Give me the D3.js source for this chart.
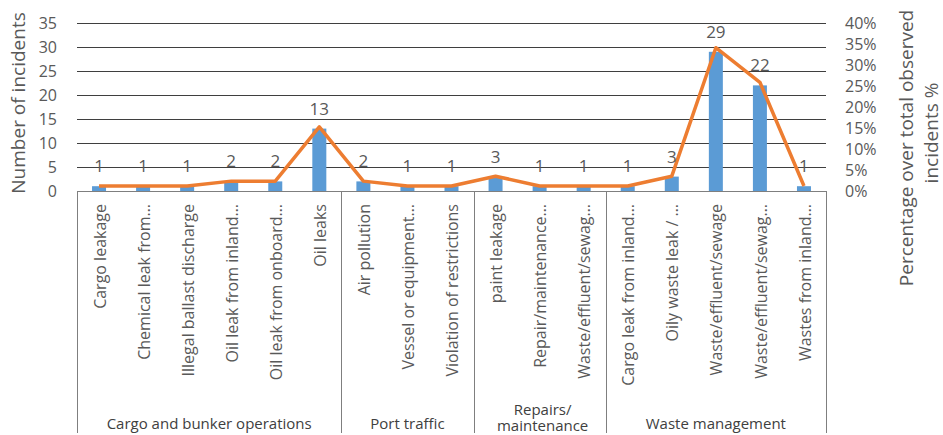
<!DOCTYPE html>
<html>
<head>
<meta charset="utf-8">
<script src="https://cdn.jsdelivr.net/npm/d3@7"></script>
<style>
  html, body { margin: 0; padding: 0; background: #fff; }
  svg { display: block; font-family: "Open Sans", sans-serif; }
</style>
</head>
<body>
<svg id="chart" width="943" height="435"></svg>
<script>
// Incident types, grouped by activity
const categories = [
  "Cargo leakage", "Chemical leak from…", "Illegal ballast discharge",
  "Oil leak from inland…", "Oil leak from onboard…", "Oil leaks",
  "Air pollution", "Vessel or equipment…", "Violation of restrictions",
  "paint leakage", "Repair/maintenance…", "Waste/effluent/sewag…",
  "Cargo leak from inland…", "Oily waste leak / …", "Waste/effluent/sewage",
  "Waste/effluent/sewag…", "Wastes from inland…"
];
const counts = [1, 1, 1, 2, 2, 13, 2, 1, 1, 3, 1, 1, 1, 3, 29, 22, 1];
const percents = [1.18, 1.18, 1.18, 2.35, 2.35, 15.29, 2.35, 1.18, 1.18, 3.53, 1.18, 1.18, 1.18, 3.53, 34.12, 25.88, 1.18];
const groups = [
  { name: ["Cargo and bunker operations"], size: 6 },
  { name: ["Port traffic"], size: 3 },
  { name: ["Repairs/", "maintenance"], size: 3 },
  { name: ["Waste management"], size: 5 }
];
const countTicks = [0, 5, 10, 15, 20, 25, 30, 35];
const pctTicks = [0, 5, 10, 15, 20, 25, 30, 35, 40];

const svg = d3.select("#chart");
const plotLeft = 77, plotRight = 826, plotTop = 23, base = 191, plotBottom = 433;
const textCol = "#595959";

const x = d3.scaleBand().domain(d3.range(categories.length)).range([plotLeft, plotRight]).paddingInner(0).paddingOuter(0);
const yL = d3.scaleLinear().domain([0, 35]).range([base, plotTop]);
const yR = d3.scaleLinear().domain([0, 40]).range([base, plotTop]);

// horizontal gridlines
svg.append("g").selectAll("line").data(countTicks.filter(d => d > 0)).join("line")
  .attr("x1", plotLeft).attr("x2", plotRight)
  .attr("y1", d => Math.round(yL(d)) + 0.5).attr("y2", d => Math.round(yL(d)) + 0.5)
  .attr("stroke", "#3f3f3f").attr("stroke-width", 1);

// left axis labels
const axL = d3.axisLeft(yL).tickValues(countTicks).tickSize(0).tickPadding(0);
const gL = svg.append("g").attr("transform", `translate(${plotLeft - 20},0)`).call(axL);
gL.select(".domain").remove();
gL.selectAll("text").attr("fill", textCol).attr("font-size", 16).attr("font-family", "Open Sans");

// right axis labels
const axR = d3.axisRight(yR).tickValues(pctTicks).tickSize(0).tickPadding(0).tickFormat(d => d + "%");
const gR = svg.append("g").attr("transform", `translate(${plotRight + 19},0)`).call(axR);
gR.select(".domain").remove();
gR.selectAll("text").attr("fill", textCol).attr("font-size", 16).attr("font-family", "Open Sans");

// bars
const barW = 14;
svg.append("g").selectAll("rect").data(counts).join("rect")
  .attr("x", (d, i) => x(i) + x.bandwidth() / 2 - barW / 2)
  .attr("width", barW)
  .attr("y", d => yL(d))
  .attr("height", d => base - yL(d))
  .attr("fill", "#5B9BD5");

// category box
const box = svg.append("g").attr("stroke", "#7f7f7f").attr("stroke-width", 1);
box.append("line").attr("x1", plotLeft).attr("x2", plotRight).attr("y1", base + 0.5).attr("y2", base + 0.5);
let acc = 0;
const bounds = [0];
groups.forEach(g => { acc += g.size; bounds.push(acc); });
const edge = i => (i === categories.length ? plotRight : x(i));
box.selectAll("line.sep").data(bounds).join("line").attr("class", "sep")
  .attr("x1", d => Math.round(edge(d)) + 0.5)
  .attr("x2", d => Math.round(edge(d)) + 0.5)
  .attr("y1", base).attr("y2", plotBottom);

// percentage line
const line = d3.line().x((d, i) => x(i) + x.bandwidth() / 2).y(d => yR(d));
svg.append("path").datum(percents).attr("d", line)
  .attr("fill", "none").attr("stroke", "#ED7D31").attr("stroke-width", 3.5).attr("stroke-linejoin", "round");

// value labels
svg.append("g").selectAll("text").data(counts).join("text")
  .attr("x", (d, i) => x(i) + x.bandwidth() / 2)
  .attr("y", d => yL(d) - 14)
  .attr("text-anchor", "middle").attr("font-size", 17).attr("fill", textCol)
  .text(d => d);

// category labels
svg.append("g").selectAll("text").data(categories).join("text")
  .attr("transform", (d, i) => `translate(${x(i) + x.bandwidth() / 2 + 1},204) rotate(-90)`)
  .attr("text-anchor", "end").attr("dy", "0.35em")
  .attr("font-size", 16).attr("fill", textCol)
  .text(d => d);

// group labels
const gl = svg.append("g");
groups.forEach((g, k) => {
  const cx = (edge(bounds[k]) + edge(bounds[k + 1])) / 2;
  if (g.name.length === 1) {
    gl.append("text").attr("text-anchor", "middle").attr("font-size", 15).attr("fill", "#404040")
      .attr("x", cx).attr("y", 429).text(g.name[0]);
  } else {
    g.name.forEach((s, j) => gl.append("text").attr("text-anchor", "middle")
      .attr("font-size", 15).attr("fill", "#404040")
      .attr("x", cx + 3).attr("y", 415 + j * 16).text(s));
  }
});

// axis titles
svg.append("text").attr("transform", "translate(25,103) rotate(-90)")
  .attr("text-anchor", "middle").attr("font-size", 19).attr("fill", textCol)
  .text("Number of incidents");
svg.append("text").attr("transform", "translate(913,148) rotate(-90)")
  .attr("text-anchor", "middle").attr("font-size", 19).attr("fill", textCol)
  .text("Percentage over total observed");
svg.append("text").attr("transform", "translate(938,133) rotate(-90)")
  .attr("text-anchor", "middle").attr("font-size", 19).attr("fill", textCol)
  .text("incidents %");
</script>
</body>
</html>
